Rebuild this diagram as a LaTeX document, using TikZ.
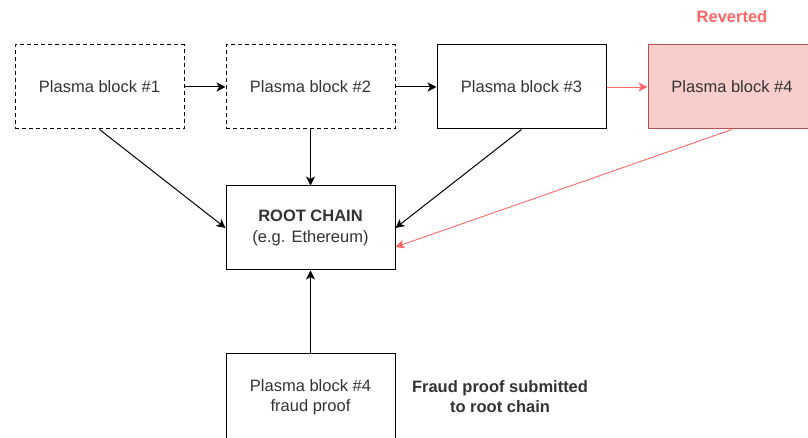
\documentclass[tikz,border=0pt]{standalone}
\usepackage{fontspec}
\setmainfont{Liberation Sans}
\usetikzlibrary{arrows.meta,calc}

\definecolor{revred}{HTML}{FF6666}
\definecolor{revfill}{HTML}{F8CECC}
\definecolor{revline}{HTML}{B85450}
\definecolor{txt}{HTML}{333333}

\begin{document}
\begin{tikzpicture}[x=1pt, y=1pt,
    block/.style={draw, line width=1pt, minimum width=169pt, minimum height=84pt,
        inner sep=0pt, align=center, text=txt, font=\fontsize{16.5}{20}\selectfont},
    oldblock/.style={block, dash pattern=on 4pt off 3pt},
    link/.style={-{Stealth[length=9pt, width=9pt, inset=2.5pt]}, line width=1pt},
    badlink/.style={link, draw=revred, line width=0.9pt},
    note/.style={font=\fontsize{16.5}{20}\selectfont\bfseries, align=center}]

    % Fix the page to the picture's size
    \useasboundingbox (0,0) rectangle (808,438);

    % Plasma chain along the top
    \node[oldblock] (b1) at (99.5,351) {Plasma block \#1};
    \node[oldblock] (b2) at (310.5,351) {Plasma block \#2};
    \node[block] (b3) at (521.5,351) {Plasma block \#3};
    \node[block, minimum width=168pt, fill=revfill, draw=revline] (b4) at (732,351) {Plasma block \#4};
    \node[note, text=revred] (reverted) at (732,421) {Reverted};

    % The root chain
    \node[block, font=\fontsize{16.5}{21}\selectfont] (root) at (310.5,210)
        {\textbf{ROOT CHAIN}\\(e.g. Ethereum)};

    % Fraud proof at the bottom
    \node[block, minimum height=86pt] (proof) at (310.5,41)
        {Plasma block \#4\\fraud proof};
    \node[note, text=txt] (prooflabel) at (500,41) {Fraud proof submitted\\to root chain};

    % Links between the blocks
    \draw[link] (b1) -- (b2);
    \draw[link] (b2) -- (b3);
    \draw[badlink] (b3) -- (b4);

    % Commitments to the root chain
    \draw[link] (b1.south) -- (root.west);
    \draw[link] (b2) -- (root);
    \draw[link] (b3.south) -- (root.east);
    \coordinate (hit) at ($(root.east)+(0,-19)$);
    \draw[badlink] (b4.south) -- (hit);
    \draw[link] (proof) -- (root);

\end{tikzpicture}
\end{document}
